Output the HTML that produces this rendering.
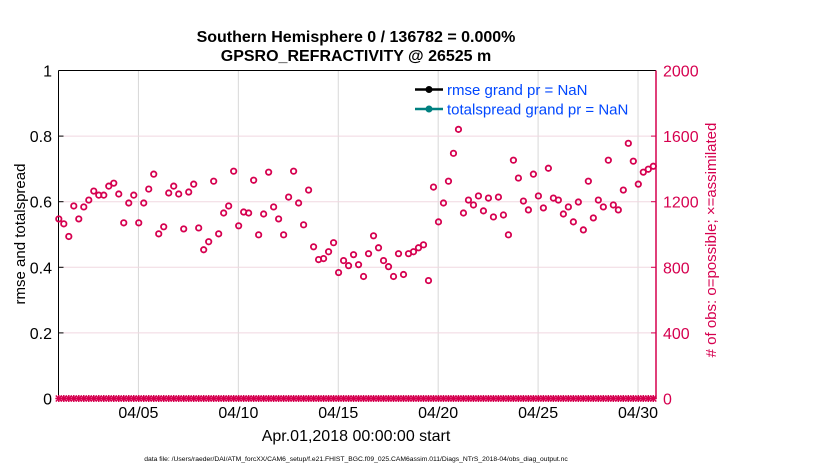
<!DOCTYPE html>
<html><head><meta charset="utf-8"><style>
body{margin:0;background:#fff;}
svg{display:block;font-family:"Liberation Sans",Arial,sans-serif;}
</style></head><body>
<svg id="chart" width="830" height="470" viewBox="0 0 830 470">
<text x="356" y="42" text-anchor="middle" font-size="16" font-weight="bold">Southern Hemisphere 0 / 136782 = 0.000%</text>
<text x="356" y="61" text-anchor="middle" font-size="16" font-weight="bold">GPSRO_REFRACTIVITY @ 26525 m</text>
<g id="grid"></g>
<g id="axes"></g>
<g id="marks"></g>
<text transform="translate(25,234) rotate(-90)" text-anchor="middle" font-size="15">rmse and totalspread</text>
<text transform="translate(716,240) rotate(-90)" text-anchor="middle" font-size="15" fill="#d6004f">#  of obs: o=possible; ×=assimilated</text>
<text x="356" y="441" text-anchor="middle" font-size="16">Apr.01,2018 00:00:00 start</text>
<text x="356" y="461" text-anchor="middle" font-size="6.75">data file: /Users/raeder/DAI/ATM_forcXX/CAM6_setup/f.e21.FHIST_BGC.f09_025.CAM6assim.011/Diags_NTrS_2018-04/obs_diag_output.nc</text>
<g>
<line x1="415" y1="89.5" x2="443" y2="89.5" stroke="#000" stroke-width="2.5"/>
<circle cx="429" cy="89.5" r="3.5" fill="#000"/>
<text x="447" y="95" font-size="15" fill="#0047ff">rmse grand pr = NaN</text>
<line x1="415" y1="109" x2="443" y2="109" stroke="#008080" stroke-width="2.5"/>
<circle cx="429" cy="109" r="3.5" fill="#008080"/>
<text x="447" y="114.5" font-size="15" fill="#0047ff">totalspread grand pr = NaN</text>
</g>
</svg>
<script>
const possibleCounts=[1095,1065,988,1174,1095,1168,1210,1265,1240,1240,1295,1313,1247,1071,1192,1240,1071,1192,1277,1368,1004,1047,1253,1295,1247,1034,1259,1307,1040,907,956,1325,1004,1131,1174,1386,1053,1137,1131,1331,998,1125,1380,1168,1095,998,1228,1386,1192,1059,1271,925,847,853,895,950,768,841,810,877,816,744,883,992,919,841,804,744,883,756,883,895,919,937,719,1289,1077,1192,1325,1495,1641,1131,1210,1180,1235,1144,1222,1107,1228,1119,998,1453,1344,1204,1150,1368,1235,1162,1404,1222,1210,1125,1168,1077,1198,1028,1325,1101,1210,1168,1453,1180,1150,1271,1556,1447,1307,1380,1398,1416];
const assimilatedCounts=possibleCounts.map(()=>0);
const leftTicks=[0,0.2,0.4,0.6,0.8,1];
const leftTickLabels=["0","0.2","0.4","0.6","0.8","1"];
const rightTicks=[0,400,800,1200,1600,2000];
const dayTicks=[5,10,15,20,25,30];
const dayTickLabels=["04/05","04/10","04/15","04/20","04/25","04/30"];
const stepDays=0.25;

const L=58.5,R=656,T=70.5,B=398.5;
const xDay=d=>L+(d-1)*(R-L)/29.9;
const yL=v=>B-v*(B-T);
const yR=c=>B-c/2000*(B-T);
const NS='http://www.w3.org/2000/svg';
function mk(tag,attrs,parent){const e=document.createElementNS(NS,tag);for(const k in attrs)e.setAttribute(k,attrs[k]);parent.appendChild(e);return e;}
const grid=document.getElementById('grid'),axes=document.getElementById('axes'),marks=document.getElementById('marks');
dayTicks.forEach((d,i)=>{
  const x=xDay(d);
  const g=mk('line',{x1:x,y1:T,x2:x,y2:B,stroke:'#d8d8d8','stroke-width':1},grid);
  
  
  const t=mk('text',{x:x,y:418,'text-anchor':'middle','font-size':16},axes);
  t.textContent=dayTickLabels[i];
  
  
});
rightTicks.forEach(c=>{
  const y=yR(c);
  if(c>0&&c<2000){const g=mk('line',{x1:L,y1:y,x2:R,y2:y,stroke:'#f0d8e0','stroke-width':1},grid);
  
  }
  mk('line',{x1:R-5,y1:y,x2:R,y2:y,stroke:'#d6004f'},axes);
  const t=mk('text',{x:663,y:y+6,'font-size':16,fill:'#d6004f'},axes);
  t.textContent=c;
  
  
});
leftTicks.forEach((v,i)=>{
  const y=yL(v);
  mk('line',{x1:L,y1:y,x2:L+5,y2:y,stroke:'#000'},axes);
  const t=mk('text',{x:52,y:y+6,'text-anchor':'end','font-size':16},axes);
  t.textContent=leftTickLabels[i];
  
  
});
mk('line',{x1:L,y1:T,x2:R,y2:T,stroke:'#000'},axes);
mk('line',{x1:L,y1:T,x2:L,y2:B,stroke:'#000'},axes);
mk('line',{x1:L,y1:B,x2:R,y2:B,stroke:'#000'},axes);
mk('line',{x1:R,y1:T,x2:R,y2:B,stroke:'#d6004f','stroke-width':1.5},axes);
possibleCounts.forEach((c,i)=>{
  const x=xDay(1+i*stepDays)+0.3;
  const p=mk('circle',{cx:x,cy:yR(c),r:2.7,fill:'none',stroke:'#d6004f','stroke-width':1.8},marks);
  
  
  const y0=yR(assimilatedCounts[i]);
  const a=mk('path',{d:`M${x-3} ${y0-3}L${x+3} ${y0+3}M${x-3} ${y0+3}L${x+3} ${y0-3}M${x-3.5} ${y0}H${x+3.5}M${x} ${y0-3.5}V${y0+3.5}`,stroke:'#d6004f','stroke-width':1.5,fill:'none'},marks);
  
  
});
</script>
</body></html>
